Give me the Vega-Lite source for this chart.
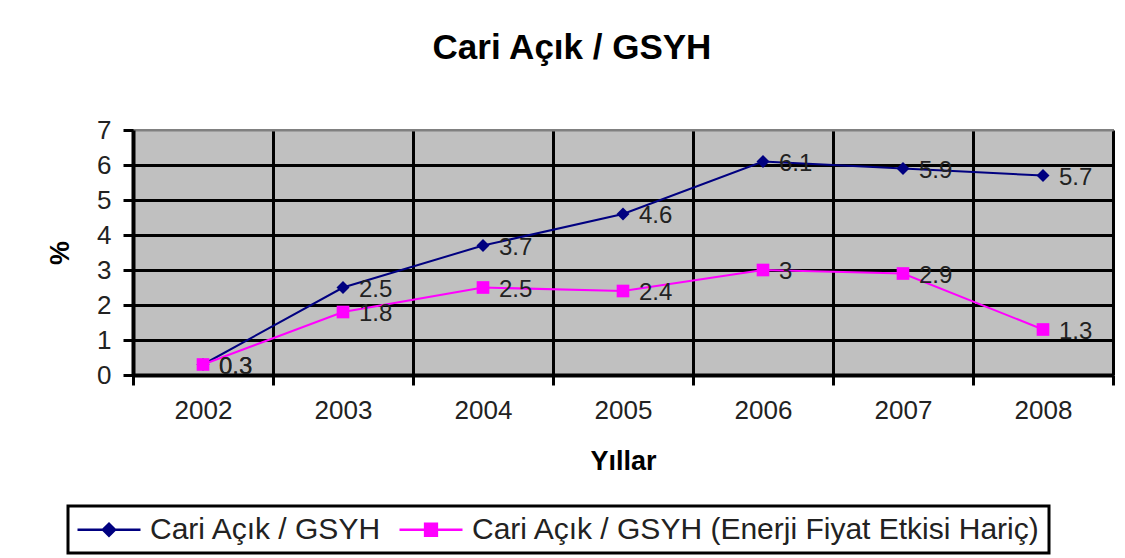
{
  "$schema": "https://vega.github.io/schema/vega-lite/v6.json",
  "autosize": "none",
  "width": 980,
  "height": 245,
  "padding": {"left": 133, "top": 130, "right": 12, "bottom": 183},
  "background": "white",
  "title": {
    "text": "Cari Açık / GSYH",
    "font": "Liberation Sans",
    "fontSize": 35,
    "fontWeight": "bold",
    "color": "black",
    "anchor": "middle",
    "frame": "group",
    "dx": -51,
    "offset": 51
  },
  "config": {
    "view": {"fill": "#C0C0C0", "stroke": "#808080", "strokeWidth": 2},
    "font": "Liberation Sans",
    "axis": {
      "labelFont": "Liberation Sans",
      "titleFont": "Liberation Sans",
      "labelColor": "#222",
      "titleColor": "black"
    }
  },
  "data": {
    "values": [
      {"year": "2002", "series": "Cari Açık / GSYH", "value": 0.3},
      {"year": "2003", "series": "Cari Açık / GSYH", "value": 2.5},
      {"year": "2004", "series": "Cari Açık / GSYH", "value": 3.7},
      {"year": "2005", "series": "Cari Açık / GSYH", "value": 4.6},
      {"year": "2006", "series": "Cari Açık / GSYH", "value": 6.1},
      {"year": "2007", "series": "Cari Açık / GSYH", "value": 5.9},
      {"year": "2008", "series": "Cari Açık / GSYH", "value": 5.7},
      {"year": "2002", "series": "Cari Açık / GSYH (Enerji Fiyat Etkisi Hariç)", "value": 0.3},
      {"year": "2003", "series": "Cari Açık / GSYH (Enerji Fiyat Etkisi Hariç)", "value": 1.8},
      {"year": "2004", "series": "Cari Açık / GSYH (Enerji Fiyat Etkisi Hariç)", "value": 2.5},
      {"year": "2005", "series": "Cari Açık / GSYH (Enerji Fiyat Etkisi Hariç)", "value": 2.4},
      {"year": "2006", "series": "Cari Açık / GSYH (Enerji Fiyat Etkisi Hariç)", "value": 3.0},
      {"year": "2007", "series": "Cari Açık / GSYH (Enerji Fiyat Etkisi Hariç)", "value": 2.9},
      {"year": "2008", "series": "Cari Açık / GSYH (Enerji Fiyat Etkisi Hariç)", "value": 1.3}
    ]
  },
  "encoding": {
    "x": {
      "field": "year",
      "type": "ordinal",
      "scale": {"type": "band", "paddingInner": 0, "paddingOuter": 0},
      "axis": {
        "title": "Yıllar",
        "titleFontSize": 27,
        "titleFontWeight": "bold",
        "titlePadding": 25,
        "labelAngle": 0,
        "labelFontSize": 26,
        "labelPadding": 12,
        "tickBand": "extent",
        "grid": true,
        "gridColor": "black",
        "gridWidth": 3,
        "gridOpacity": 1,
        "domainColor": "black",
        "domainWidth": 4,
        "tickColor": "black",
        "tickWidth": 3,
        "tickSize": 10
      }
    },
    "y": {
      "field": "value",
      "type": "quantitative",
      "scale": {"domain": [0, 7], "nice": false},
      "axis": {
        "title": "%",
        "titleFontSize": 27,
        "titleFontWeight": "bold",
        "titlePadding": 22,
        "values": [0, 1, 2, 3, 4, 5, 6, 7],
        "labelFontSize": 26,
        "labelPadding": 12,
        "grid": true,
        "gridColor": {"condition": {"test": "datum.value === 7", "value": "#808080"}, "value": "black"},
        "gridWidth": {"condition": {"test": "datum.value === 7", "value": 2}, "value": 3},
        "gridOpacity": 1,
        "domainColor": "black",
        "domainWidth": 4,
        "tickColor": "black",
        "tickWidth": 3,
        "tickSize": 10
      }
    }
  },
  "layer": [
    {
      "mark": {"type": "line", "strokeWidth": 2},
      "encoding": {
        "color": {
          "field": "series",
          "type": "nominal",
          "scale": {
            "domain": ["Cari Açık / GSYH", "Cari Açık / GSYH (Enerji Fiyat Etkisi Hariç)"],
            "range": ["#000080", "#FF00FF"]
          }
        }
      }
    },
    {
      "transform": [{"filter": "datum.series === 'Cari Açık / GSYH'"}],
      "mark": {"type": "point", "filled": true, "opacity": 1, "size": 170, "shape": "diamond"},
      "encoding": {
        "color": {"field": "series", "type": "nominal"}
      }
    },
    {
      "transform": [{"filter": "datum.series !== 'Cari Açık / GSYH'"}],
      "mark": {"type": "point", "filled": true, "opacity": 1, "size": 160, "shape": "square"},
      "encoding": {
        "color": {"field": "series", "type": "nominal"}
      }
    },
    {
      "mark": {"type": "point", "filled": true, "opacity": 0, "strokeWidth": 2.5, "size": 784},
      "encoding": {
        "color": {
          "field": "series",
          "type": "nominal",
          "legend": {
            "title": null,
            "orient": "none",
            "direction": "horizontal",
            "legendX": -65,
            "legendY": 376,
            "labelFont": "Liberation Sans",
            "labelFontSize": 30,
            "labelColor": "#222",
            "labelLimit": 800,
            "labelOffset": 43,
            "columnPadding": 12,
            "padding": 8,
            "symbolSize": 784,
            "symbolOpacity": 1,
            "symbolStrokeWidth": 2.5,
            "strokeColor": "black",
            "encode": {
              "legend": {"update": {"strokeWidth": {"value": 3}}}
            }
          }
        },
        "stroke": {
          "field": "series",
          "type": "nominal",
          "scale": {
            "domain": ["Cari Açık / GSYH", "Cari Açık / GSYH (Enerji Fiyat Etkisi Hariç)"],
            "range": ["#000080", "#FF00FF"]
          }
        },
        "shape": {
          "field": "series",
          "type": "nominal",
          "scale": {
            "domain": ["Cari Açık / GSYH", "Cari Açık / GSYH (Enerji Fiyat Etkisi Hariç)"],
            "range": ["M-1,0H3.5M0.82,0L1.25,-0.43L1.68,0L1.25,0.43Z", "M-1,0H3.5M0.83,-0.42H1.67V0.42H0.83Z"]
          }
        }
      }
    },
    {
      "mark": {"type": "text", "align": "left", "baseline": "middle", "dx": 16, "dy": 2, "fontSize": 24, "font": "Liberation Sans", "color": "#222"},
      "encoding": {
        "text": {"field": "value", "type": "quantitative"}
      }
    }
  ]
}
